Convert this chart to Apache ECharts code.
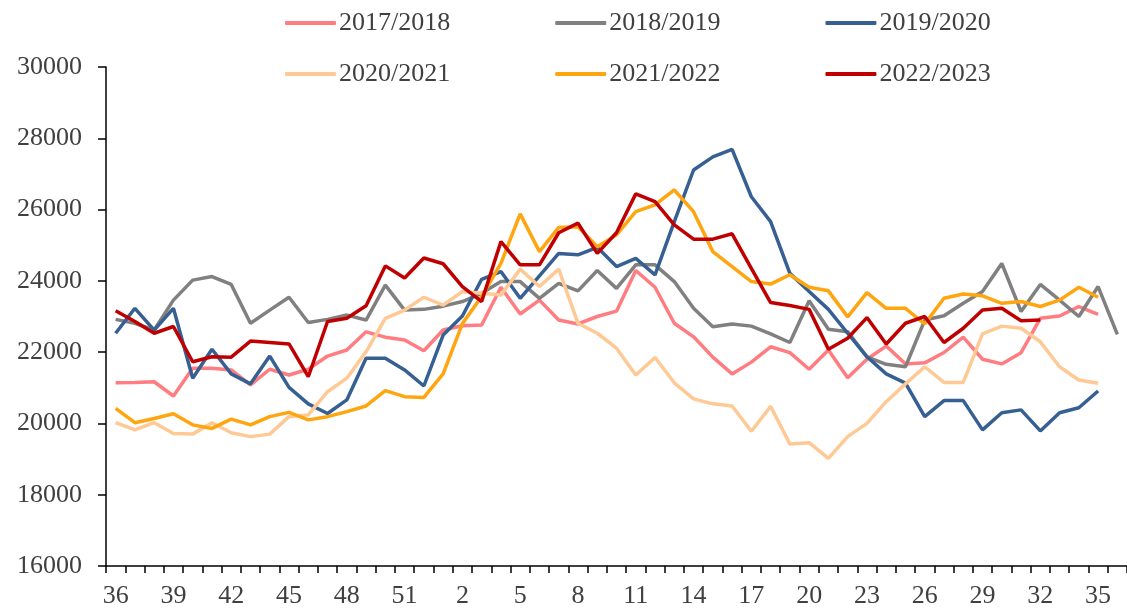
<!DOCTYPE html>
<html>
<head>
<meta charset="utf-8">
<script src="https://cdn.jsdelivr.net/npm/echarts@6/dist/echarts.min.js"></script>
<style>
  html, body { margin: 0; padding: 0; background: #fff; }
  #chart { width: 1127px; height: 610px; }
</style>
</head>
<body>
<div id="chart"></div>
<script>
// week numbers, season runs from week 36 to week 36 of next year
const weeks = ['36','37','38','39','40','41','42','43','44','45','46','47','48','49','50','51','52',
  '1','2','3','4','5','6','7','8','9','10','11','12','13','14','15','16','17','18','19','20',
  '21','22','23','24','25','26','27','28','29','30','31','32','33','34','35','36']

const seasonNames = ['2017/2018', '2018/2019', '2019/2020', '2020/2021', '2021/2022', '2022/2023']

const s1718 = [21140,21150,21170,20770,21550,21550,21500,21080,21520,21360,21520,21890,22060,22570,22420,22340,22040,
  22620,22740,22760,23820,23070,23460,22900,22790,23000,23150,24290,23820,22810,22430,21860,21390,21720,22150,21985,21520,
  22060,21280,21800,22170,21670,21700,21990,22420,21800,21670,21985,22950,23015,23280,23060,null]

const s1819 = [22920,22810,22620,23460,24020,24120,23900,22810,23180,23540,22830,22920,23040,22900,23880,23180,23200,
  23290,23420,23650,23980,23980,23510,23930,23720,24290,23790,24450,24450,23980,23230,22710,22790,22730,22510,22270,23440,
  22640,22575,21870,21660,21590,22900,23020,23370,23700,24490,23140,23900,23460,23000,23840,22500]

const s1920 = [22530,23230,22620,23230,21270,22080,21390,21110,21890,21010,20550,20280,20660,21830,21830,21500,21050,
  22480,23015,24045,24260,23510,24140,24770,24730,24940,24400,24630,24170,25660,27110,27480,27690,26360,25660,24210,23700,
  23200,22530,21870,21390,21130,20190,20640,20640,19820,20300,20380,19790,20300,20440,20910,null]

const s2021 = [20020,19820,20020,19720,19700,20020,19740,19630,19700,20190,20240,20890,21270,22010,22950,23180,23540,
  23320,23700,23650,23600,24330,23840,24330,22810,22530,22110,21360,21850,21140,20690,20550,20490,19780,20480,19420,19460,
  19020,19630,20000,20610,21110,21590,21150,21150,22510,22730,22670,22290,21590,21220,21130,null]

const s2122 = [20420,20020,20140,20270,19960,19860,20120,19960,20190,20310,20100,20190,20330,20490,20920,20750,20730,
  21390,22800,23560,24490,25880,24820,25500,25520,24960,25290,25940,26130,26550,25940,24820,24400,23980,23910,24170,23820,
  23720,22990,23670,23230,23230,22790,23510,23630,23580,23370,23420,23280,23460,23820,23540,null]

const s2223 = [23160,22860,22530,22720,21730,21870,21860,22310,22270,22230,21310,22860,22950,23300,24420,24080,24640,
  24480,23840,23420,25100,24450,24450,25350,25620,24770,25350,26440,26220,25570,25170,25170,25320,24350,23390,23310,23200,
  22080,22390,22970,22230,22810,23000,22270,22670,23180,23230,22880,22900,null,null,null,null]

const seasonData = [s1718, s1819, s1920, s2021, s2122, s2223]
const colors = ['#FF7C80', '#808080', '#376092', '#FFC995', '#FFA50F', '#C00000']

const font = '"Times New Roman", "Liberation Serif", serif'
const textColor = '#404040'

const chart = echarts.init(document.getElementById('chart'))

const legendBase = {
  left: 280,
  icon: 'roundRect',
  itemWidth: 51,
  itemHeight: 4,
  itemGap: 105,
  textStyle: { fontFamily: font, fontSize: 26, color: textColor, padding: [0, 0, 0, -2] },
}

const option = {
  animation: false,
  backgroundColor: '#fff',
  color: colors,
  legend: [
    Object.assign({}, legendBase, { top: 5, data: seasonNames.slice(0, 3) }),
    Object.assign({}, legendBase, { top: 56, data: seasonNames.slice(3) }),
  ],
  grid: {
    left: 106,
    right: 0,
    top: 67,
    bottom: 44,
    containLabel: false,
  },
  xAxis: {
    type: 'category',
    data: weeks,
    boundaryGap: true,
    axisLine: { lineStyle: { color: '#000', width: 1.5 } },
    axisTick: { show: true, interval: 0, length: 7, lineStyle: { color: '#000', width: 1.5 } },
    axisLabel: {
      interval: 2,
      margin: 17,
      fontFamily: font,
      fontSize: 26,
      color: textColor,
    },
    splitLine: { show: false },
  },
  yAxis: {
    type: 'value',
    min: 16000,
    max: 30000,
    interval: 2000,
    axisLine: { show: true, lineStyle: { color: '#000', width: 1.5 } },
    axisTick: { show: true, length: 8, lineStyle: { color: '#000', width: 1.5 } },
    axisLabel: {
      margin: 24,
      fontFamily: font,
      fontSize: 26,
      color: textColor,
      formatter: v => String(v),
    },
    splitLine: { show: false },
  },
  series: seasonNames.map((name, i) => ({
    name: name,
    type: 'line',
    data: seasonData[i],
    symbol: 'none',
    connectNulls: false,
    lineStyle: { color: colors[i], width: 3.5 },
    itemStyle: { color: colors[i] },
  })),
}

chart.setOption(option)
</script>
</body>
</html>
